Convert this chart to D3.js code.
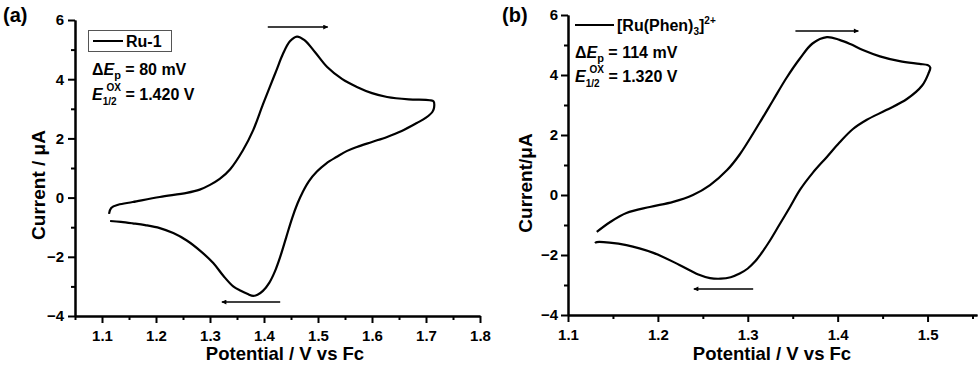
<!DOCTYPE html>
<html>
<head>
<meta charset="utf-8">
<script src="https://cdn.jsdelivr.net/npm/d3@7"></script>
<style>
  body { margin: 0; background: #fff; }
  svg { display: block; font-family: "Liberation Sans", Arial, sans-serif; font-weight: bold; }
</style>
</head>
<body>
<svg id="chart" width="980" height="368"></svg>
<script>
// panel (a): Ru-1 cyclic voltammogram
var potA = [1.113, 1.117, 1.13, 1.157, 1.207, 1.257, 1.281, 1.300, 1.318, 1.337, 1.361, 1.380, 1.398, 1.411, 1.423, 1.435, 1.448, 1.461, 1.475, 1.495, 1.517, 1.545, 1.572, 1.600, 1.628, 1.668, 1.707, 1.714, 1.715, 1.712, 1.700, 1.683, 1.655, 1.628, 1.600, 1.572, 1.553, 1.535, 1.515, 1.498, 1.483, 1.472, 1.462, 1.452, 1.441, 1.430, 1.420, 1.410, 1.398, 1.388, 1.380, 1.370, 1.357, 1.343, 1.325, 1.306, 1.282, 1.257, 1.232, 1.207, 1.180, 1.157, 1.135, 1.115];
var curA = [-0.55, -0.35, -0.24, -0.15, 0.02, 0.16, 0.27, 0.43, 0.63, 0.95, 1.6, 2.28, 3.15, 3.75, 4.3, 4.85, 5.28, 5.44, 5.32, 4.9, 4.41, 4.0, 3.74, 3.53, 3.40, 3.32, 3.29, 3.25, 3.05, 2.9, 2.7, 2.52, 2.25, 2.05, 1.88, 1.71, 1.57, 1.38, 1.15, 0.88, 0.55, 0.2, -0.2, -0.7, -1.35, -2.0, -2.5, -2.87, -3.15, -3.28, -3.32, -3.26, -3.15, -3.0, -2.65, -2.21, -1.8, -1.45, -1.2, -1.03, -0.93, -0.87, -0.82, -0.79];

// panel (b): [Ru(Phen)3]2+ cyclic voltammogram
var potB = [1.132, 1.147, 1.165, 1.191, 1.217, 1.239, 1.258, 1.277, 1.291, 1.313, 1.328, 1.343, 1.358, 1.372, 1.388, 1.402, 1.414, 1.428, 1.447, 1.469, 1.491, 1.500, 1.503, 1.501, 1.494, 1.477, 1.454, 1.432, 1.417, 1.402, 1.388, 1.372, 1.358, 1.347, 1.335, 1.324, 1.315, 1.308, 1.300, 1.291, 1.281, 1.270, 1.258, 1.245, 1.224, 1.195, 1.165, 1.132, 1.130];
var curB = [-1.23, -0.9, -0.6, -0.4, -0.23, 0.0, 0.33, 0.83, 1.35, 2.4, 3.15, 3.9, 4.55, 5.05, 5.26, 5.17, 5.03, 4.83, 4.62, 4.46, 4.37, 4.33, 4.25, 4.05, 3.65, 3.2, 2.83, 2.5, 2.2, 1.75, 1.27, 0.73, 0.17, -0.4, -1.0, -1.55, -1.95, -2.22, -2.45, -2.62, -2.74, -2.79, -2.77, -2.65, -2.33, -1.93, -1.67, -1.57, -1.6];

// tick values
var yMajor = [-4, -2, 0, 2, 4, 6];
var yMinor = [-3, -1, 1, 3, 5];
var xMajorA = [1.1, 1.2, 1.3, 1.4, 1.5, 1.6, 1.7, 1.8];
var xMinorA = [1.05, 1.15, 1.25, 1.35, 1.45, 1.55, 1.65, 1.75];
var xMajorB = [1.1, 1.2, 1.3, 1.4, 1.5];
var xMinorB = [1.15, 1.25, 1.35, 1.45, 1.55];

// scan direction arrows [x1, x2, y]
var arrowsA = [[1.407, 1.518, 5.76], [1.430, 1.322, -3.53]];
var arrowsB = [[1.353, 1.423, 5.47], [1.306, 1.240, -3.13]];

var svg = d3.select("#chart");

svg.append("defs").append("marker")
  .attr("id", "head")
  .attr("viewBox", "0 0 10 10")
  .attr("refX", 9).attr("refY", 5)
  .attr("markerWidth", 7).attr("markerHeight", 5)
  .attr("markerUnits", "userSpaceOnUse")
  .attr("orient", "auto")
  .append("path").attr("d", "M0,0L10,5L0,10Z").attr("fill", "#000");

function drawPanel(p) {
  var x = d3.scaleLinear().domain(p.xDomain).range(p.xRange);
  var y = d3.scaleLinear().domain([-4, 6]).range(p.yRange);
  var g = svg.append("g");

  // minor ticks
  g.append("g").attr("transform", "translate(0," + p.yRange[0] + ")")
    .call(d3.axisBottom(x).tickValues(p.xMinor).tickSize(4).tickSizeOuter(0).tickFormat(""));
  g.append("g").attr("transform", "translate(" + p.xRange[0] + ",0)")
    .call(d3.axisLeft(y).tickValues(yMinor).tickSize(4).tickSizeOuter(0).tickFormat(""));

  g.append("g").attr("transform", "translate(0," + p.yRange[0] + ")")
    .call(d3.axisBottom(x).tickValues(p.xMajor).tickSize(7).tickSizeOuter(0).tickPadding(7).tickFormat(d3.format(".1f")));
  g.append("g").attr("transform", "translate(" + p.xRange[0] + ",0)")
    .call(d3.axisLeft(y).tickValues(yMajor).tickSize(7).tickSizeOuter(0).tickPadding(p.yPad).tickFormat(d3.format("d")));

  g.selectAll(".domain, .tick line").attr("stroke", "#000").attr("stroke-width", 2);
  g.selectAll(".tick text").attr("fill", "#000").style("font-size", "15px")
    .style("font-family", "'Liberation Sans', Arial, sans-serif").style("font-weight", "bold");

  // axis titles
  g.append("text")
    .attr("x", p.xTitle[0]).attr("y", p.xTitle[1])
    .attr("text-anchor", "middle").style("font-size", "18.5px")
    .text("Potential / V vs Fc");
  g.append("text")
    .attr("transform", "translate(" + p.yTitle[0] + "," + p.yTitle[1] + ") rotate(-90)")
    .attr("text-anchor", "middle").style("font-size", "19px")
    .text(p.yLabel);

  // panel letter
  g.append("text").attr("x", p.letterPos[0]).attr("y", p.letterPos[1])
    .style("font-size", "20px").text(p.letter);

  // curve
  var line = d3.line()
    .x(function (d) { return x(d[0]); })
    .y(function (d) { return y(d[1]); })
    .curve(d3.curveCatmullRom.alpha(0.5));
  g.append("path")
    .datum(d3.zip(p.pot, p.cur))
    .attr("d", line)
    .attr("fill", "none").attr("stroke", "#000").attr("stroke-width", 2.2)
    .attr("stroke-linejoin", "round");

  // arrows
  g.selectAll(".arrow").data(p.arrows).enter().append("line")
    .attr("x1", function (d) { return x(d[0]); })
    .attr("x2", function (d) { return x(d[1]); })
    .attr("y1", function (d) { return y(d[2]); })
    .attr("y2", function (d) { return y(d[2]); })
    .attr("stroke", "#000").attr("stroke-width", 1.5)
    .attr("marker-end", "url(#head)");

  return g;
}

var ga = drawPanel({
  xDomain: [1.05, 1.8], xRange: [75, 480], yRange: [316, 20], yPad: 4,
  xMajor: xMajorA, xMinor: xMinorA,
  pot: potA, cur: curA, arrows: arrowsA,
  xTitle: [285, 360], yTitle: [45, 185], yLabel: "Current / \u03bcA",
  letter: "(a)", letterPos: [3, 22]
});

var gb = drawPanel({
  xDomain: [1.1, 1.555], xRange: [568, 977], yRange: [315, 15], yPad: 3,
  xMajor: xMajorB, xMinor: xMinorB,
  pot: potB, cur: curB, arrows: arrowsB,
  xTitle: [772, 360], yTitle: [532, 183], yLabel: "Current/\u03bcA",
  letter: "(b)", letterPos: [502, 22]
});

// legend (a)
ga.append("rect").attr("x", 88.5).attr("y", 30.5).attr("width", 83).attr("height", 21)
  .attr("fill", "none").attr("stroke", "#555").attr("stroke-width", 1);
ga.append("line").attr("x1", 93).attr("x2", 123).attr("y1", 41).attr("y2", 41)
  .attr("stroke", "#000").attr("stroke-width", 2);
ga.append("text").attr("x", 126).attr("y", 47).style("font-size", "16px").text("Ru-1");

function annot(g, x0, y1, y2, dep, ehalf) {
  var t1 = g.append("text").attr("x", x0).attr("y", y1).style("font-size", "16px");
  t1.append("tspan").text("\u0394");
  t1.append("tspan").style("font-style", "italic").text("E");
  t1.append("tspan").attr("dy", 4).style("font-size", "11px").text("p");
  t1.append("tspan").attr("dy", -4).text(" = " + dep);
  var t2 = g.append("text").attr("x", x0).attr("y", y2).style("font-size", "16px");
  t2.append("tspan").style("font-style", "italic").text("E");
  t2.append("tspan").attr("dy", 5).style("font-size", "10px").text("1/2");
  t2.append("tspan").attr("dy", -14).attr("dx", -10).style("font-size", "10px").text("OX");
  t2.append("tspan").attr("dy", 9).text(" = " + ehalf);
}
annot(ga, 92, 75, 100, "80 mV", "1.420 V");

// legend (b)
gb.append("line").attr("x1", 575).attr("x2", 614).attr("y1", 25).attr("y2", 25)
  .attr("stroke", "#000").attr("stroke-width", 2);
var lt = gb.append("text").attr("x", 617).attr("y", 31).style("font-size", "16px");
lt.append("tspan").text("[Ru(Phen)");
lt.append("tspan").attr("dy", 4).style("font-size", "10px").text("3");
lt.append("tspan").attr("dy", -4).text("]");
lt.append("tspan").attr("dy", -7).style("font-size", "10px").text("2+");
annot(gb, 575, 58, 82, "114 mV", "1.320 V");
</script>
</body>
</html>
